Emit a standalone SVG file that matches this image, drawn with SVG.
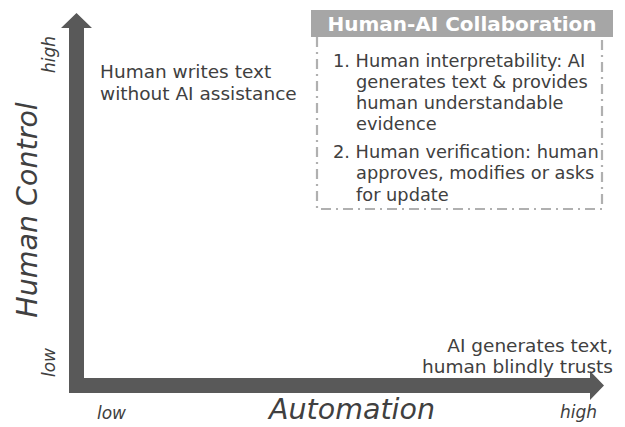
<svg xmlns="http://www.w3.org/2000/svg" width="625" height="427" viewBox="0 0 625 427">
<style>
.t{font-family:"DejaVu Sans","Verdana",sans-serif;fill:#404040}
.n{font-size:18.5px}
.l{font-size:17.8px}
.ax{font-size:17px;font-style:italic}
.big{font-size:28.5px;font-style:italic}
</style>
<rect width="625" height="427" fill="#fff"/>
<g id="axes">
<path d="M69,393 V28 H61 L76.5,13 L92,28 H84 V378 H590 V371 L604,385.5 L590,400 V393 Z" fill="#595959"/>
</g>
<g id="y-axis-labels" class="t">
<text class="big" transform="translate(37,210) rotate(-90)" text-anchor="middle">Human Control</text>
<text class="ax" transform="translate(55,73) rotate(-90)">high</text>
<text class="ax" transform="translate(55,377) rotate(-90)">low</text>
</g>
<g id="x-axis-labels" class="t">
<text class="ax" x="97" y="419">low</text>
<text class="big" x="352" y="419" text-anchor="middle">Automation</text>
<text class="ax" x="597" y="418" text-anchor="end">high</text>
</g>
<g id="node-human" class="t n">
<text x="100" y="78">Human writes text</text>
<text x="100" y="100">without AI assistance</text>
</g>
<g id="node-ai" class="t n" text-anchor="end">
<text x="613" y="352">AI generates text,</text>
<text x="613" y="373">human blindly trusts</text>
</g>
<g id="node-collab">
<rect x="311" y="10" width="302" height="27" fill="#a6a6a6"/>
<text x="462" y="31" text-anchor="middle" font-family="DejaVu Sans, Verdana, sans-serif" font-weight="bold" font-size="20" fill="#fff">Human-AI Collaboration</text>
<path d="M317,37 V209 H602 V37" fill="none" stroke="#b0b0b0" stroke-width="2.2" stroke-dasharray="10,5,2,5"/>
<g class="t l">
<text x="333" y="67">1. Human interpretability: AI</text>
<text x="356" y="88">generates text &amp; provides</text>
<text x="356" y="109">human understandable</text>
<text x="356" y="130">evidence</text>
<text x="333" y="158">2. Human verification: human</text>
<text x="356" y="179">approves, modifies or asks</text>
<text x="356" y="201">for update</text>
</g>
</g>
</svg>
